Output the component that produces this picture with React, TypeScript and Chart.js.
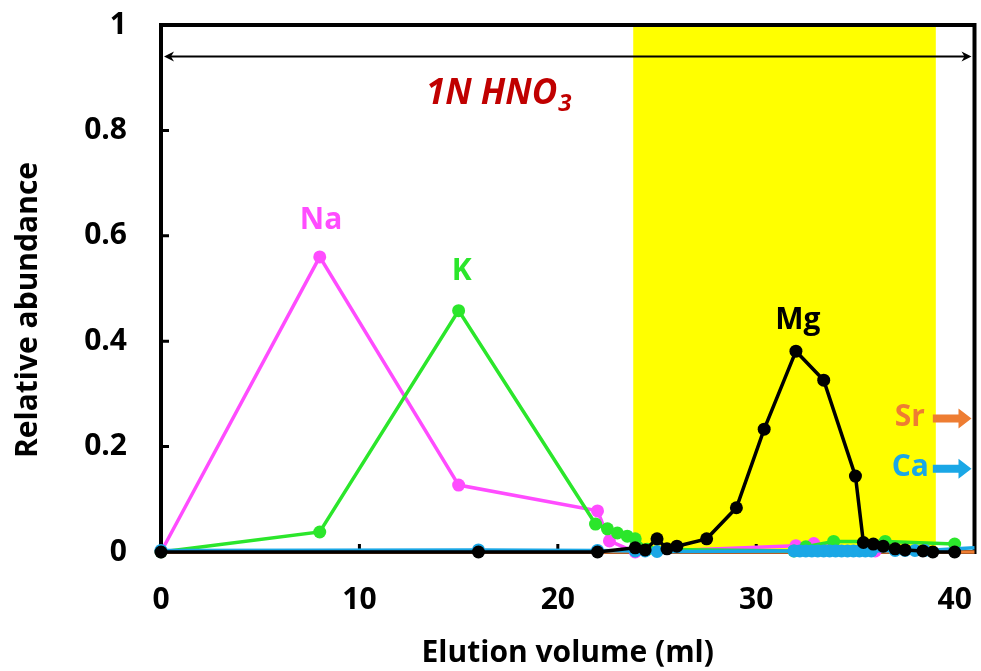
import React, { useEffect, useRef } from 'react';
import { Chart, registerables } from 'chart.js';

Chart.register(...registerables);

// ---- data (elution volume in ml, relative abundance) ----
const mgX = [0, 16, 22, 23.9, 24.4, 25, 25.5, 26, 27.5, 29, 30.4, 32, 33.4, 35, 35.4, 35.9, 36.4, 37, 37.5, 38.4, 38.9, 40];
const mgY = [0, 0, 0, 0.008, 0.004, 0.025, 0.006, 0.011, 0.025, 0.084, 0.233, 0.381, 0.326, 0.144, 0.018, 0.015, 0.011, 0.006, 0.004, 0.002, 0, 0];

const naX = [0, 8, 15, 22, 22.6, 23.9, 32, 32.9, 36];
const naY = [0, 0.56, 0.127, 0.078, 0.021, 0, 0.012, 0.016, 0.002];

const kX = [0, 8, 15, 21.9, 22.5, 23, 23.5, 23.9, 24.5, 31.9, 32.5, 33.9, 36.5, 40];
const kY = [0, 0.038, 0.458, 0.053, 0.044, 0.036, 0.03, 0.025, 0.005, 0.002, 0.01, 0.02, 0.02, 0.015];

const caX = [0, 16, 22, 23.9, 24.4, 25, 31.9, 32.2, 32.5, 32.8, 33.1, 33.4, 33.7, 34, 34.3, 34.6, 34.9, 35.2, 35.5, 35.8, 37, 37.5, 38, 38.5, 41];
const caY = [0.003, 0.004, 0.003, 0.002, 0.002, 0.001, 0.002, 0.002, 0.002, 0.002, 0.002, 0.002, 0.002, 0.002, 0.002, 0.002, 0.002, 0.002, 0.002, 0.002, 0.003, 0.003, 0.003, 0.003, 0.008];

const srX = [0, 41];
const srY = [0, 0];

const xTickValues = [0, 10, 20, 30, 40];
const xTickLabels = ['0', '10', '20', '30', '40'];
const yTickValues = [0, 0.2, 0.4, 0.6, 0.8, 1];
const yTickLabels = ['0', '0.2', '0.4', '0.6', '0.8', '1'];

const X_MIN = 0;
const X_MAX = 41;
const BAND_START = 23.8;
const BAND_END = 39.05;
const ARROW_Y = 0.94;

const X_TITLE = 'Elution volume (ml)';
const Y_TITLE = 'Relative abundance';

// ---- styles ----
const FONT = '"Open Sans", sans-serif';
const C_NA = '#FF4CFF';
const C_K = '#2BE62B';
const C_MG = '#000000';
const C_CA = '#1AA7E6';
const C_SR = '#EE7D32';
const C_ACID = '#C00000';

const pts = (xs: number[], ys: number[]) => xs.map((x, i) => ({ x, y: ys[i] }));

export default function App() {
  const ref = useRef<HTMLCanvasElement | null>(null);

  useEffect(() => {
    if (!ref.current) return;

    const backPlugin = {
      id: 'backLayer',
      beforeDatasetsDraw(chart: any) {
        const { ctx, chartArea: a, scales } = chart;
        const x = scales.x;
        const y = scales.y;
        ctx.save();
        const bx0 = x.getPixelForValue(BAND_START);
        const bx1 = x.getPixelForValue(BAND_END);
        ctx.fillStyle = '#FFFF00';
        ctx.fillRect(bx0, a.top, bx1 - bx0, a.bottom - a.top);
        ctx.strokeStyle = '#000';
        ctx.lineWidth = 4;
        ctx.strokeRect(a.left, a.top, a.right - a.left, a.bottom - a.top);
        ctx.lineWidth = 3;
        ctx.beginPath();
        yTickValues.forEach((v) => {
          const py = y.getPixelForValue(v);
          ctx.moveTo(a.left, py);
          ctx.lineTo(a.left + 8, py);
        });
        xTickValues.forEach((v) => {
          const px = x.getPixelForValue(v);
          ctx.moveTo(px, a.bottom);
          ctx.lineTo(px, a.bottom - 8);
        });
        ctx.stroke();
        ctx.restore();
      },
    };

    const blockArrow = (ctx: any, x0: number, x1: number, cy: number, color: string) => {
      ctx.fillStyle = color;
      const headLen = 13;
      const body = 4;
      const head = 10;
      ctx.beginPath();
      ctx.moveTo(x0, cy - body);
      ctx.lineTo(x1 - headLen, cy - body);
      ctx.lineTo(x1 - headLen, cy - head);
      ctx.lineTo(x1, cy);
      ctx.lineTo(x1 - headLen, cy + head);
      ctx.lineTo(x1 - headLen, cy + body);
      ctx.lineTo(x0, cy + body);
      ctx.closePath();
      ctx.fill();
    };

    const frontPlugin = {
      id: 'frontLayer',
      afterDatasetsDraw(chart: any) {
        const { ctx, chartArea: a, scales } = chart;
        const x = scales.x;
        const y = scales.y;
        ctx.save();

        // double-headed arrow
        const ay = y.getPixelForValue(ARROW_Y);
        const ax0 = a.left + 3;
        const ax1 = a.right - 3;
        ctx.strokeStyle = '#000';
        ctx.fillStyle = '#000';
        ctx.lineWidth = 2;
        ctx.beginPath();
        ctx.moveTo(ax0 + 4, ay);
        ctx.lineTo(ax1 - 4, ay);
        ctx.stroke();
        ctx.beginPath();
        ctx.moveTo(ax0, ay);
        ctx.lineTo(ax0 + 10, ay - 5);
        ctx.lineTo(ax0 + 7, ay);
        ctx.lineTo(ax0 + 10, ay + 5);
        ctx.closePath();
        ctx.fill();
        ctx.beginPath();
        ctx.moveTo(ax1, ay);
        ctx.lineTo(ax1 - 10, ay - 5);
        ctx.lineTo(ax1 - 7, ay);
        ctx.lineTo(ax1 - 10, ay + 5);
        ctx.closePath();
        ctx.fill();

        // 1N HNO3
        ctx.fillStyle = C_ACID;
        ctx.textBaseline = 'alphabetic';
        ctx.textAlign = 'left';
        ctx.font = `italic bold 35px ${FONT}`;
        const main = '1N HNO';
        const wMain = ctx.measureText(main).width;
        ctx.font = `italic bold 24px ${FONT}`;
        const wSub = ctx.measureText('3').width;
        const tx = x.getPixelForValue(17.0) - (wMain + wSub) / 2;
        const tBase = y.getPixelForValue(0.85);
        ctx.font = `italic bold 35px ${FONT}`;
        ctx.fillText(main, tx, tBase);
        ctx.font = `italic bold 24px ${FONT}`;
        ctx.fillText('3', tx + wMain + 1, tBase + 7);

        // series labels
        ctx.font = `bold 30px ${FONT}`;
        ctx.textAlign = 'center';
        ctx.textBaseline = 'middle';
        ctx.fillStyle = C_NA;
        ctx.fillText('Na', x.getPixelForValue(8.07), y.getPixelForValue(0.63));
        ctx.fillStyle = C_K;
        ctx.fillText('K', x.getPixelForValue(15.15), y.getPixelForValue(0.532));
        ctx.fillStyle = C_MG;
        ctx.fillText('Mg', x.getPixelForValue(32.1), y.getPixelForValue(0.44));

        // Sr / Ca out-of-range arrows
        ctx.textAlign = 'right';
        ctx.fillStyle = C_SR;
        const srY0 = y.getPixelForValue(0.255);
        ctx.fillText('Sr', x.getPixelForValue(38.5), srY0);
        blockArrow(ctx, x.getPixelForValue(38.9), a.right - 3, srY0 + 1, C_SR);
        ctx.fillStyle = C_CA;
        const caY0 = y.getPixelForValue(0.16);
        ctx.fillText('Ca', x.getPixelForValue(38.7), caY0);
        blockArrow(ctx, x.getPixelForValue(38.9), a.right - 3, caY0 + 1, C_CA);

        // axis titles
        ctx.fillStyle = '#000';
        ctx.font = `bold 30px ${FONT}`;
        ctx.textAlign = 'center';
        ctx.textBaseline = 'alphabetic';
        ctx.fillText(X_TITLE, (a.left + a.right) / 2, 662);
        ctx.translate(37, 310);
        ctx.rotate(-Math.PI / 2);
        ctx.fillText(Y_TITLE, 0, 0);

        ctx.restore();
      },
    };

    const ds = (label: string, xs: number[], ys: number[], color: string, radius: number) => ({
      label,
      data: pts(xs, ys),
      borderColor: color,
      backgroundColor: color,
      pointBackgroundColor: color,
      pointBorderColor: color,
      borderWidth: 3.5,
      pointRadius: (c: any) => (c.raw && c.raw.x >= X_MAX ? 0 : radius),
      pointBorderWidth: 0,
      tension: 0,
      clip: false as any,
    });

    const chart = new Chart(ref.current, {
      type: 'line',
      data: {
        datasets: [
          ds('Mg', mgX, mgY, C_MG, 6.5),
          ds('Ca', caX, caY, C_CA, 6.5),
          ds('K', kX, kY, C_K, 6.5),
          ds('Na', naX, naY, C_NA, 6.5),
          ds('Sr', srX, srY, C_SR, 0),
        ],
      },
      options: {
        animation: false,
        responsive: true,
        maintainAspectRatio: false,
        layout: { padding: { top: 25, right: 3, left: 0, bottom: 0 } },
        plugins: {
          legend: { display: false },
          tooltip: { enabled: false },
        },
        scales: {
          x: {
            type: 'linear',
            min: X_MIN,
            max: X_MAX,
            afterFit: (s: any) => {
              s.height = 119;
              s.paddingLeft = 0;
              s.paddingRight = 0;
            },
            afterBuildTicks: (s: any) => {
              s.ticks = xTickValues.map((v) => ({ value: v }));
            },
            grid: { display: false, drawTicks: false, tickLength: 0 },
            border: { display: false },
            ticks: {
              padding: 30,
              color: '#000',
              font: { family: FONT, size: 30, weight: 'bold' },
              maxRotation: 0,
              autoSkip: false,
              callback: (v: any) => {
                const i = xTickValues.indexOf(Number(v));
                return i >= 0 ? xTickLabels[i] : '';
              },
            },
          },
          y: {
            type: 'linear',
            min: 0,
            max: 1,
            afterFit: (s: any) => {
              s.width = 161;
              s.paddingTop = 0;
              s.paddingBottom = 0;
            },
            afterBuildTicks: (s: any) => {
              s.ticks = yTickValues.map((v) => ({ value: v }));
            },
            grid: { display: false, drawTicks: false, tickLength: 0 },
            border: { display: false },
            ticks: {
              padding: 34,
              color: '#000',
              font: { family: FONT, size: 30, weight: 'bold' },
              autoSkip: false,
              callback: (v: any) => {
                const i = yTickValues.findIndex((t) => Math.abs(t - Number(v)) < 1e-9);
                return i >= 0 ? yTickLabels[i] : '';
              },
            },
          },
        },
      },
      plugins: [backPlugin, frontPlugin],
    });

    return () => chart.destroy();
  }, []);

  return (
    <div style={{ position: 'fixed', left: 0, top: 0, width: 981, height: 671, background: '#fff' }}>
      <canvas ref={ref} />
    </div>
  );
}
